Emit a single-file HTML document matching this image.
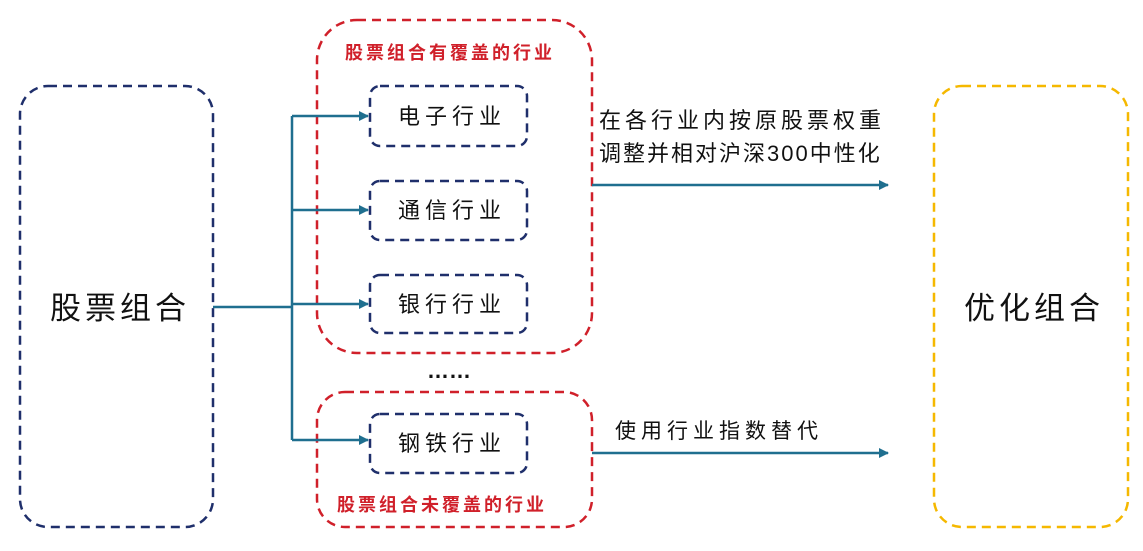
<!DOCTYPE html>
<html><head><meta charset="utf-8"><style>
body{margin:0;background:#fff;}
svg text{font-family:"Liberation Sans","Noto Sans CJK SC",sans-serif;}
</style></head><body>
<svg width="1143" height="546" viewBox="0 0 1143 546" xmlns="http://www.w3.org/2000/svg">
<defs><marker id="a" markerWidth="10" markerHeight="10" refX="9" refY="5" orient="auto" markerUnits="userSpaceOnUse"><path d="M0,0 L10,5 L0,10 Z" fill="#1f6f8f"/></marker></defs>
<g fill="none" stroke-width="2.5" stroke-dasharray="9,6">
<rect x="20" y="86" width="193" height="441" rx="28" stroke="#1f2f6b"/>
<rect x="934" y="86" width="194" height="441" rx="28" stroke="#f5b800"/>
<rect x="317" y="20" width="275" height="333" rx="40" stroke="#d0202a"/>
<rect x="317" y="392" width="275" height="135" rx="28" stroke="#d0202a"/>
<rect x="370" y="86" width="157" height="60" rx="10" stroke="#1f2f6b"/>
<rect x="370" y="181" width="157" height="59" rx="10" stroke="#1f2f6b"/>
<rect x="370" y="275" width="157" height="58" rx="10" stroke="#1f2f6b"/>
<rect x="370" y="414" width="157" height="59" rx="10" stroke="#1f2f6b"/>
</g>
<g stroke="#1f6f8f" stroke-width="2.5" fill="none">
<path d="M213 307 H292 M292 116 V440"/>
<path d="M292 116 H368" marker-end="url(#a)"/>
<path d="M292 210 H368" marker-end="url(#a)"/>
<path d="M292 304 H368" marker-end="url(#a)"/>
<path d="M292 440 H368" marker-end="url(#a)"/>
<path d="M592 185 H888" marker-end="url(#a)"/>
<path d="M592 453 H888" marker-end="url(#a)"/>
</g>
<g font-size="31" fill="#111">
<text x="50" y="319" letter-spacing="4">股票组合</text>
<text x="964" y="319" letter-spacing="4">优化组合</text>
</g>
<g font-size="22" fill="#111">
<text x="398" y="124" letter-spacing="5">电子行业</text>
<text x="398" y="218" letter-spacing="5">通信行业</text>
<text x="398" y="312" letter-spacing="5">银行行业</text>
<text x="398" y="451" letter-spacing="5">钢铁行业</text>
</g>
<g font-size="18" fill="#d0202a" font-weight="bold">
<text x="345" y="59" letter-spacing="3">股票组合有覆盖的行业</text>
<text x="337" y="511" letter-spacing="3">股票组合未覆盖的行业</text>
</g>
<g font-size="22" fill="#111">
<text x="599" y="128" letter-spacing="4">在各行业内按原股票权重</text>
<text x="599" y="161" letter-spacing="2">调整并相对沪深300中性化</text>
<text x="615" y="438" font-size="21" letter-spacing="5">使用行业指数替代</text>
</g>
<text x="449" y="378" font-size="22" font-weight="bold" fill="#111" text-anchor="middle">……</text>
</svg>
</body></html>
